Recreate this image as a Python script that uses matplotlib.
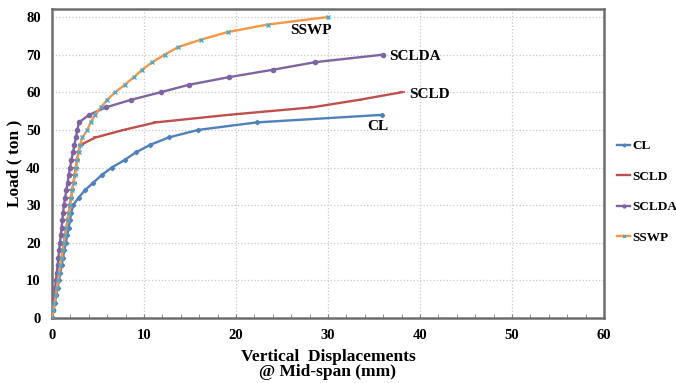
import matplotlib
matplotlib.use("Agg")
import matplotlib.pyplot as plt
from matplotlib.ticker import MultipleLocator

# Load steps (ton) and mid-span deflections (mm)
cl_load = [0, 2, 4, 6, 8, 10, 12, 14, 16, 18, 20, 22, 24, 26, 28, 30,
           32, 34, 36, 38, 40, 42, 44, 46, 48, 50, 52, 54]
cl_disp = [0, 0.15, 0.3, 0.45, 0.6, 0.75, 0.9, 1.05, 1.2, 1.35, 1.5, 1.65, 1.8, 1.95, 2.1, 2.3,
           2.9, 3.6, 4.5, 5.4, 6.5, 7.9, 9.1, 10.65, 12.7, 15.9, 22.3, 35.9]

scld_load = [0, 2, 4, 6, 8, 10, 12, 14, 16, 18, 20, 22, 24, 26, 28, 30,
             32, 34, 36, 38, 40, 42, 44, 46, 48, 50, 52, 54, 56, 58, 60]
scld_disp = [0, 0.13, 0.26, 0.39, 0.52, 0.65, 0.78, 0.91, 1.04, 1.17, 1.3, 1.43, 1.56, 1.69, 1.82, 1.95,
             2.08, 2.21, 2.34, 2.47, 2.6, 2.73, 2.86, 3.1, 4.75, 7.8, 11.3, 19.2, 28.3, 33.4, 38.0]

sclda_load = [0, 2, 4, 6, 8, 10, 12, 14, 16, 18, 20, 22, 24, 26, 28, 30,
              32, 34, 36, 38, 40, 42, 44, 46, 48, 50, 52, 54, 56, 58, 60, 62, 64, 66, 68, 70]
sclda_disp = [0, 0.09, 0.17, 0.26, 0.35, 0.43, 0.52, 0.61, 0.7, 0.78, 0.87, 0.95, 1.04, 1.13, 1.21, 1.3,
              1.43, 1.56, 1.7, 1.83, 1.96, 2.12, 2.28, 2.44, 2.6, 2.76, 2.93, 4.05, 5.87, 8.6, 11.8, 14.9, 19.2, 24.05, 28.6, 36.0]

sswp_load = [0, 2, 4, 6, 8, 10, 12, 14, 16, 18, 20, 22, 24, 26, 28, 30,
             32, 34, 36, 38, 40, 42, 44, 46, 48, 50, 52, 54, 56, 58, 60, 62, 64, 66, 68, 70,
             72, 74, 76, 78, 80]
sswp_disp = [0, 0.13, 0.26, 0.39, 0.52, 0.65, 0.78, 0.91, 1.04, 1.17, 1.3, 1.43, 1.56, 1.69, 1.82, 1.95,
             2.08, 2.21, 2.34, 2.47, 2.6, 2.75, 2.9, 3.05, 3.3, 3.84, 4.2, 4.67, 5.33, 6.0, 6.88, 7.9, 8.9, 9.8, 10.9, 12.25,
             13.7, 16.2, 19.1, 23.45, 29.97]

x_ticks = [0, 10, 20, 30, 40, 50, 60]
y_ticks = [0, 10, 20, 30, 40, 50, 60, 70, 80]

serif = ["Liberation Serif", "DejaVu Serif"]

fig = plt.figure(figsize=(6.76, 3.83), dpi=100)
ax = fig.add_axes([0.0769, 0.1697, 0.8166, 0.8055])

ax.plot(cl_disp, cl_load, color="#4F81BD", lw=1.7, marker="D", ms=2.2, label="CL", zorder=3)
ax.plot(scld_disp, scld_load, color="#C0504D", lw=1.7, marker="_", ms=4, mew=1.2, label="SCLD", zorder=3)
ax.plot(sclda_disp, sclda_load, color="#8064A2", lw=1.7, marker="o", ms=3, label="SCLDA", zorder=3)
ax.plot(sswp_disp, sswp_load, color="#F79646", lw=1.7, marker="x", ms=3, mec="#4BACC6", mew=1.0,
        label="SSWP", zorder=3)

ax.set_xlim(0, 60)
ax.set_ylim(0, 82)
ax.set_xticks(x_ticks)
ax.set_yticks(y_ticks)
ax.xaxis.set_minor_locator(MultipleLocator(2))
ax.grid(True, which="major", color="#C8C8C8", linestyle=":", linewidth=0.9)
ax.tick_params(axis="x", which="both", direction="in", length=3, color="#808080")
ax.tick_params(axis="y", which="both", length=0)
for lab in ax.get_xticklabels() + ax.get_yticklabels():
    lab.set_fontfamily(serif)
    lab.set_fontweight("bold")
    lab.set_fontsize(10.5)
ax.tick_params(axis="x", which="major", pad=8)
ax.tick_params(axis="y", pad=8)
for sp in ax.spines.values():
    sp.set_color("#6E6E6E")
    sp.set_linewidth(1.8)

ax.set_xlabel("Vertical  Displacements\n@ Mid-span (mm)", fontfamily=serif, fontweight="bold",
              fontsize=12.5, labelpad=5, linespacing=0.95)
ax.set_ylabel("Load ( ton )", fontfamily=serif, fontweight="bold", fontsize=12.5, labelpad=3)

ann = dict(fontfamily=serif, fontweight="bold", fontsize=11, va="center", ha="left")
ax.text(25.9, 76.3, "SSWP", **ann)
ax.text(36.7, 69.4, "SCLDA", **ann)
ax.text(38.8, 59.3, "SCLD", **ann)
ax.text(34.3, 50.8, "CL", **ann)

leg = fig.legend(loc="center left", bbox_to_anchor=(617 / 676, 1 - 192 / 383), frameon=False,
                 prop={"family": serif, "weight": "bold", "size": 9.5},
                 handlelength=1.0, handletextpad=0.15, labelspacing=1.38, markerscale=0.7,
                 borderpad=0, borderaxespad=0)

fig.savefig("out.png", dpi=100)
